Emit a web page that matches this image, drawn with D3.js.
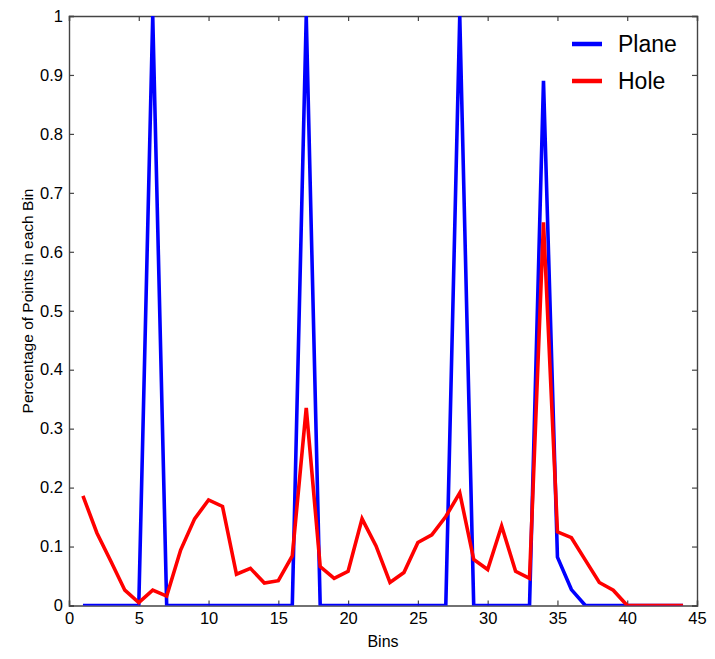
<!DOCTYPE html>
<html>
<head>
<meta charset="utf-8">
<script src="https://cdn.jsdelivr.net/npm/d3@7"></script>
<style>
  body { margin: 0; background: #fff; }
  svg { display: block; font-family: Arial, "Liberation Sans", sans-serif; }
</style>
</head>
<body>
<svg id="chart"></svg>
<script>
// --------------------
//  data
// --------------------
const bins = d3.range(1, 45); // 1..44
const plane = [0, 0, 0, 0, 0, 1, 0, 0, 0, 0,
               0, 0, 0, 0, 0, 0, 1, 0, 0, 0,
               0, 0, 0, 0, 0, 0, 0, 1, 0, 0,
               0, 0, 0, 0.89, 0.082, 0.027, 0, 0, 0, 0,
               0, 0, 0, 0];
const hole = [0.186, 0.123, 0.075, 0.026, 0.005, 0.026, 0.016, 0.094, 0.147, 0.179,
              0.168, 0.053, 0.063, 0.038, 0.042, 0.084, 0.335, 0.066, 0.046, 0.058,
              0.147, 0.101, 0.039, 0.056, 0.107, 0.12, 0.151, 0.191, 0.078, 0.061,
              0.135, 0.058, 0.046, 0.65, 0.125, 0.115, 0.077, 0.039, 0.026, 0,
              0, 0, 0, 0];
const xTicks = d3.range(0, 46, 5);
const yTicks = d3.range(0, 11).map(d => d / 10);
const seriesNames = ['Plane', 'Hole'];
const seriesColors = ['#0000ff', '#ff0000'];

// --------------------
//  setup
// --------------------
const width = 715;
const height = 659;
const margin = {top: 16, right: 18, bottom: 53.5, left: 69};
const innerW = width - margin.left - margin.right;
const innerH = height - margin.top - margin.bottom;

const svg = d3.select('#chart')
    .attr('width', width)
    .attr('height', height);

const g = svg.append('g')
    .attr('transform', `translate(${margin.left},${margin.top})`);

const x = d3.scaleLinear().domain([0, 45]).range([0, innerW]);
const y = d3.scaleLinear().domain([0, 1]).range([innerH, 0]);

svg.append('defs').append('clipPath').attr('id', 'plotClip')
    .append('rect').attr('x', 0).attr('y', 0).attr('width', innerW).attr('height', innerH);

// 軸 (目盛りは内向き)
const axisColor = '#444';
const tickLen = 5;

const xAxis = g.append('g')
    .attr('transform', `translate(0,${innerH})`)
    .call(d3.axisBottom(x).tickValues(xTicks).tickSize(-tickLen).tickPadding(7).tickFormat(d3.format('d')));
const yAxis = g.append('g')
    .call(d3.axisLeft(y).tickValues(yTicks).tickSize(-tickLen).tickPadding(6).tickFormat(d => d === 0 ? '0' : d === 1 ? '1' : d3.format('.1f')(d)));
const xAxisTop = g.append('g')
    .call(d3.axisTop(x).tickValues(xTicks).tickSize(-tickLen).tickFormat(''));
const yAxisRight = g.append('g')
    .attr('transform', `translate(${innerW},0)`)
    .call(d3.axisRight(y).tickValues(yTicks).tickSize(-tickLen).tickFormat(''));

[xAxis, yAxis, xAxisTop, yAxisRight].forEach(a => {
    a.select('.domain').attr('stroke', axisColor).attr('stroke-width', 1.4);
    a.selectAll('.tick line').attr('stroke', axisColor).attr('stroke-width', 1.2);
    a.selectAll('.tick text')
        .attr('fill', '#000')
        .attr('font-size', '16.5px')
        .attr('font-family', 'Arial, "Liberation Sans", sans-serif');
});

// 線
const line = d3.line()
    .x((d, i) => x(bins[i]))
    .y(d => y(d));

const plot = g.append('g').attr('clip-path', 'url(#plotClip)');
[plane, hole].forEach((s, k) => {
    plot.append('path')
        .datum(s)
        .attr('fill', 'none')
        .attr('stroke', seriesColors[k])
        .attr('stroke-width', 3.6)
        .attr('stroke-linejoin', 'miter')
        .attr('d', line);
});

// 軸ラベル
svg.append('text')
    .attr('x', 383)
    .attr('y', 647)
    .attr('text-anchor', 'middle')
    .attr('font-size', '16px')
    .text('Bins');

svg.append('text')
    .attr('transform', 'translate(33,301) rotate(-90)')
    .attr('text-anchor', 'middle')
    .attr('font-size', '15.5px')
    .text('Percentage of Points in each Bin');

// 凡例
const legend = svg.append('g').attr('transform', 'translate(572,44)');
seriesNames.forEach((name, i) => {
    const row = legend.append('g').attr('transform', `translate(0,${i * 37})`);
    row.append('line')
        .attr('x1', 0).attr('x2', 30)
        .attr('y1', 0).attr('y2', 0)
        .attr('stroke', seriesColors[i])
        .attr('stroke-width', 4.5);
    row.append('text')
        .attr('x', 46)
        .attr('y', 8)
        .attr('font-size', '23px')
        .text(name);
});
</script>
</body>
</html>
